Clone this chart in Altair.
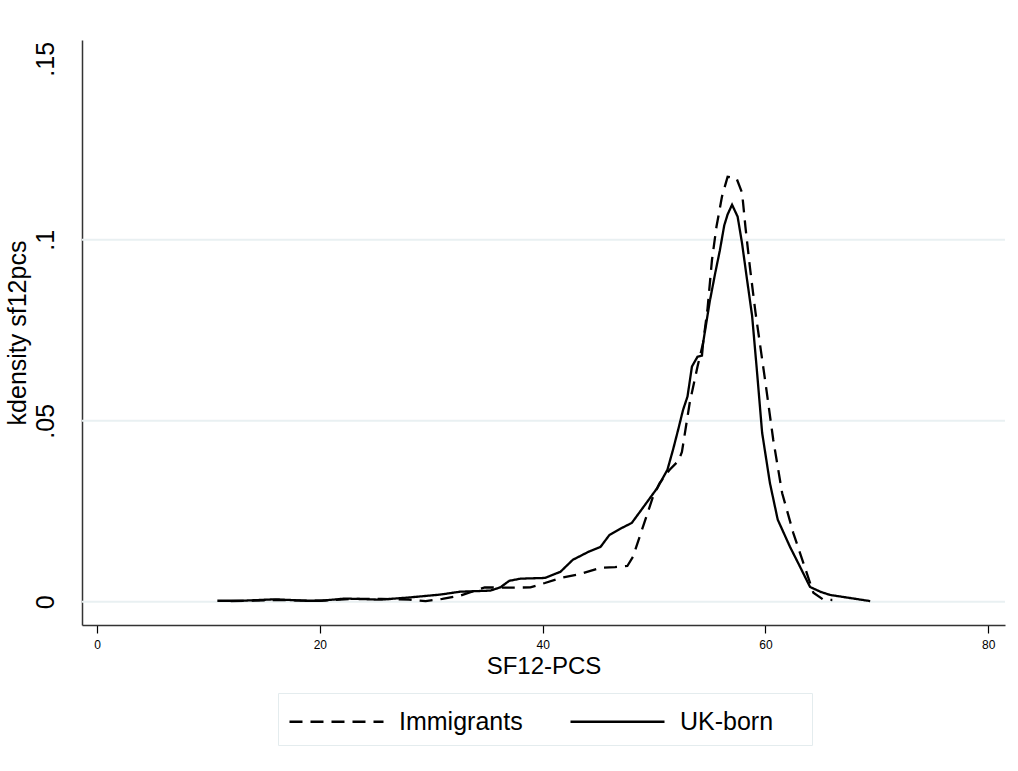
import altair as alt
import pandas as pd

# UK-born (solid) kernel density
uk_x = [10.8, 13.0, 16.0, 18.7, 20.0, 22.3, 25.4, 28.0, 30.8, 32.6, 35.3, 36.2, 37.0, 38.0,
        40.2, 41.6, 42.7, 44.1, 45.2, 46.0, 47.1, 48.0, 49.0, 50.3, 51.2, 51.7, 52.2, 52.6,
        53.0, 53.4, 53.9, 54.3, 54.4, 55.0, 55.5, 55.9, 56.3, 56.6, 57.0, 57.5, 57.9, 58.3,
        58.8, 59.2, 59.7, 60.4, 61.1, 62.2, 63.1, 64.0, 65.0, 65.8, 67.5, 69.4]
uk_y = [0.0003, 0.0003, 0.0007, 0.0003, 0.0003, 0.0009, 0.0006, 0.0012, 0.0020, 0.0028,
        0.0031, 0.0040, 0.0058, 0.0064, 0.0066, 0.0083, 0.0116, 0.0138, 0.0152, 0.0185,
        0.0204, 0.0218, 0.0260, 0.0315, 0.0365, 0.0420, 0.0480, 0.0530, 0.0567, 0.0650,
        0.0677, 0.0680, 0.0715, 0.0830, 0.0910, 0.0970, 0.1040, 0.1070, 0.1097, 0.1064,
        0.0990, 0.0900, 0.0790, 0.0650, 0.0467, 0.0328, 0.0227, 0.0152, 0.0097, 0.0041,
        0.0027, 0.0019, 0.0011, 0.0002]

# Immigrants (dashed)
im_x = [12.0, 16.0, 20.0, 23.0, 25.5, 28.0, 29.5, 31.0, 32.6, 34.8, 37.0, 38.9, 40.2, 41.6,
        43.4, 45.2, 46.5, 47.6, 48.1, 49.0, 49.9, 50.5, 51.4, 52.2, 52.5, 53.2, 53.9, 54.4,
        54.8, 55.2, 55.6, 56.1, 56.6, 57.4, 57.9, 58.2, 58.6, 59.1, 60.0, 60.7, 61.5, 62.5,
        63.7, 64.3, 65.2, 66.0]
im_y = [0.0002, 0.0005, 0.0003, 0.0008, 0.0008, 0.0006, 0.0002, 0.0008, 0.0017, 0.0040,
        0.0039, 0.0040, 0.0052, 0.0066, 0.0077, 0.0094, 0.0096, 0.0099, 0.0124, 0.0207,
        0.0290, 0.0328, 0.0365, 0.0390, 0.0414, 0.0550, 0.0650, 0.0715, 0.0810, 0.0945,
        0.1036, 0.1120, 0.1174, 0.1170, 0.1130, 0.1036, 0.0925, 0.0800, 0.0605, 0.0447,
        0.0300, 0.0190, 0.0080, 0.0025, 0.0006, 0.0005]

groups = ["Immigrants", "UK-born"]
x_ticks = [0, 20, 40, 60, 80]
y_ticks = [0, 0.05, 0.1, 0.15]
grid_vals = [0, 0.05, 0.1]

df = pd.concat([
    pd.DataFrame({"x": im_x, "y": im_y, "group": groups[0], "order": range(len(im_x))}),
    pd.DataFrame({"x": uk_x, "y": uk_y, "group": groups[1], "order": range(len(uk_x))}),
])
grid_df = pd.DataFrame({"g": grid_vals})

FONT = "Liberation Sans"
xscale = alt.Scale(domain=[-1.35, 81.5], nice=False, zero=False)
yscale = alt.Scale(domain=[-0.0064, 0.1552], nice=False, zero=False)

label_expr = "datum.value == 0 ? '0' : replace(format(datum.value, '.2~f'), /^0/, '')"

y_axis = alt.Axis(values=y_ticks, grid=False, ticks=False, labelAngle=270,
                  labelAlign="center", labelBaseline="bottom", labelFontSize=25,
                  labelPadding=24, titleFontSize=25, titlePadding=3,
                  labelExpr=label_expr, domainColor="#333333", labelColor="black",
                  titleColor="black", titleFontWeight="normal", labelFont=FONT,
                  titleFont=FONT, domainWidth=1.5)

grid = alt.Chart(grid_df).mark_rule(color="#e9f0f2", strokeWidth=2).encode(
    y=alt.Y("g:Q", scale=yscale, title="kdensity sf12pcs", axis=y_axis)
)

lines = alt.Chart(df).mark_line(color="black", strokeWidth=2.3, strokeCap="butt").encode(
    x=alt.X("x:Q", scale=xscale, title="SF12-PCS",
            axis=alt.Axis(values=x_ticks, grid=False, labelFontSize=12, titleFontSize=24,
                          tickSize=8, tickColor="black", domainColor="#333333",
                          labelColor="black", titleColor="black", labelPadding=6,
                          titlePadding=4, titleFontWeight="normal", labelFont=FONT,
                          titleFont=FONT, domainWidth=1.5, tickWidth=1.2)),
    y=alt.Y("y:Q", scale=yscale, title="kdensity sf12pcs", axis=y_axis),
    strokeDash=alt.StrokeDash("group:N",
                              scale=alt.Scale(domain=groups, range=[[13, 8], [1, 0]]),
                              legend=alt.Legend(title="\u00a0", titleOrient="right",
                                                titlePadding=29, titleFontSize=8,
                                                orient="none", direction="horizontal",
                                                legendX=196, legendY=653,
                                                symbolType="M-2.765,0H2.765", symbolSize=1156,
                                                symbolStrokeWidth=2.3, symbolStrokeColor="black",
                                                symbolOffset=30,
                                                labelFontSize=25, labelFont=FONT,
                                                labelColor="black", labelOffset=44,
                                                columnPadding=42, strokeColor="#e4ecee",
                                                fillColor="white", padding=10)),
    order="order:Q",
)

chart = alt.layer(grid, lines).properties(
    width=923, height=585,
    autosize=alt.AutoSizeParams(type="none"),
    padding={"left": 82, "top": 40, "right": 13, "bottom": 146},
    background="white",
).configure_view(stroke=None)

chart.save("out.html", embed_options={"renderer": "svg", "actions": False})
